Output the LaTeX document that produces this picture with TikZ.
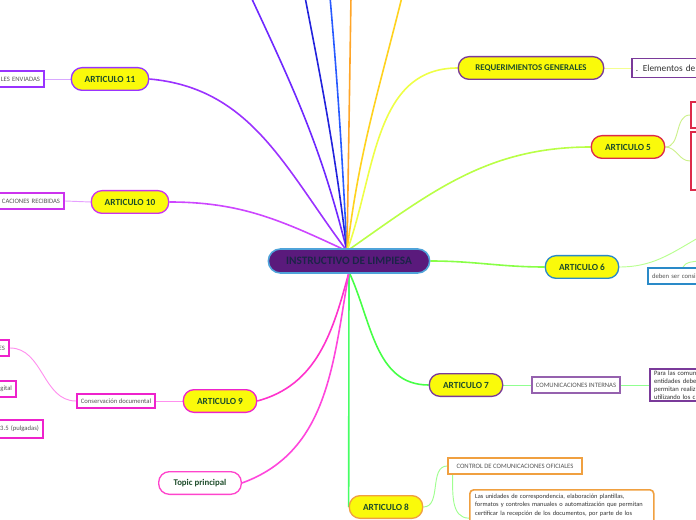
\documentclass[tikz,border=0pt]{standalone}
\usepackage{fontspec}
\setmainfont{Carlito}
\usepackage{tikz}
\usetikzlibrary{positioning, backgrounds}
\definecolor{centrofill}{HTML}{5A1A7C}
\definecolor{centroborde}{HTML}{4FA3D9}
\definecolor{centrotexto}{HTML}{1C2448}
\definecolor{amarillo}{HTML}{FAFA0A}
\definecolor{verdetexto}{HTML}{1E4D2B}
\definecolor{gristexto}{HTML}{555555}
\definecolor{oscurotexto}{HTML}{333333}
\definecolor{morado}{HTML}{9933FF}
\definecolor{lila}{HTML}{CC33EE}
\definecolor{purpura}{HTML}{7A3A9A}
\definecolor{rojo}{HTML}{DD2A4A}
\definecolor{azul}{HTML}{2A8AC8}
\definecolor{naranja}{HTML}{F0A040}
\definecolor{magenta}{HTML}{EE22CC}
\definecolor{rosa}{HTML}{FF44CC}
\tikzset{>=latex}
\tikzset{
  centro/.style={rounded corners=9pt, fill=centrofill, draw=centroborde,
    line width=1.2pt, minimum width=121pt, minimum height=18pt,
    text=centrotexto, font=\fontsize{8.5}{10}\selectfont\bfseries},
  articulo/.style={rounded corners=8pt, fill=amarillo, line width=1pt,
    minimum width=55pt, minimum height=17pt, text=verdetexto,
    font=\fontsize{7}{8}\selectfont\bfseries},
  hoja/.style={fill=white, line width=1.5pt, inner xsep=3pt, inner ysep=1pt,
    minimum height=12pt, text=gristexto, font=\fontsize{5}{6}\selectfont},
  rama/.style={line width=1.2pt},
  subrama/.style={line width=0.7pt},
}
\begin{document}
\begin{tikzpicture}[x=0.75pt, y=-0.75pt]
  \path[use as bounding box, clip] (0,0) rectangle (696,520);
  % centre
  \node[centro] (centro) at (349,261) {INSTRUCTIVO DE LIMPIESA};
  \coordinate (arriba) at (347,251);
  \coordinate (abajo) at (349,272);
  % left side
  \node[articulo, draw=morado, minimum width=58pt] (art11) at (110,79) {ARTICULO 11};
  \node[hoja, draw=morado, anchor=east, text width=60pt, align=right] (env11) at (45,79) {LES ENVIADAS};
  \node[articulo, draw=lila, minimum width=58pt] (art10) at (130,202) {ARTICULO 10};
  \node[hoja, draw=lila, anchor=east, text width=60pt, align=right] (rec10) at (65,201) {CACIONES RECIBIDAS};
  \node[articulo, draw=magenta] (art9) at (220,401) {ARTICULO 9};
  \node[hoja, draw=magenta, minimum height=11pt] (cons9) at (116,401) {Conservación documental};
  \node[hoja, draw=magenta, anchor=east, text width=30pt, align=right] (es9) at (10,348) {ES};
  \node[hoja, draw=magenta, anchor=east, text width=30pt, align=right] (dig9) at (17,389) {igital};
  \node[hoja, draw=magenta, anchor=east, text width=50pt, align=right, minimum height=13pt] (pulg9) at (44,429) {3.5 (pulgadas)};
  \node[articulo, draw=rosa, fill=white, minimum width=62pt,
    font=\fontsize{6.6}{8}\selectfont\bfseries] (topic) at (200,483) {Topic principal};
  % right side
  \node[articulo, draw=purpura, minimum width=109pt,
    font=\fontsize{6.6}{8}\selectfont\bfseries] (req) at (531,68) {REQUERIMIENTOS GENERALES};
  \node[hoja, draw=purpura, line width=1.2pt, anchor=west, text width=80pt, align=left,
    minimum height=14pt, text=oscurotexto, font=\fontsize{7}{8}\selectfont] (elem) at (631,68) {. Elementos de};
  \node[articulo, draw=rojo] (art5) at (628,147) {ARTICULO 5};
  \node[hoja, draw=rojo, anchor=west, minimum width=30pt, minimum height=19pt] (a5a) at (690,115) {};
  \node[hoja, draw=rojo, anchor=west, minimum width=30pt, minimum height=43pt] (a5b) at (690,161) {};
  \node[articulo, draw=azul] (art6) at (582,267) {ARTICULO 6};
  \node[hoja, draw=azul, anchor=west, text width=60pt, align=left] (a6box) at (647,276) {deben ser consi};
  \coordinate (a6fin) at (698,238);
  \coordinate (a6sub) at (698,261);
  \node[articulo, draw=purpura] (art7) at (466,385) {ARTICULO 7};
  \node[hoja, draw=purpura!80] (ci7) at (576,385) {COMUNICACIONES INTERNAS};
  \node[hoja, draw=purpura, anchor=west, text width=60pt, align=left,
    font=\fontsize{5}{6}\selectfont, text=oscurotexto] (para7) at (649,385)
    {Para las comun\\entidades debe\\permitan realiz\\utilizando los c};
  \node[articulo, draw=naranja] (art8) at (386,507) {ARTICULO 8};
  \node[hoja, draw=naranja, minimum width=100pt] (ctrl8) at (515,466) {CONTROL DE COMUNICACIONES OFICIALES};
  \node[hoja, draw=naranja, rounded corners=3pt, line width=1.2pt, anchor=north west,
    text width=130pt, align=left, inner xsep=4pt, inner ysep=3pt, text=oscurotexto,
    font=\fontsize{4.8}{6.4}\selectfont] (unid8) at (469,489)
    {Las unidades de correspondencia, elaboración plantillas,\\formatos y controles manuales o automatización que permitan\\certificar la recepción de los documentos, por parte de los\\[14pt]\mbox{}};
  % branches that leave the top
  \coordinate (top1) at (251,-3);
  \coordinate (top2) at (305,-3);
  \coordinate (top3) at (330,-3);
  \coordinate (top4) at (351,-3);
  \coordinate (top5) at (402,-3);
  \begin{pgfonlayer}{background}
    \draw[rama, color={rgb,255:red,110;green,40;blue,255}] (top1) to[out=-65, in=104] (arriba);
    \draw[rama, color={rgb,255:red,34;green,34;blue,220}] (top2) to[out=-79, in=97] (arriba);
    \draw[rama, color={rgb,255:red,40;green,90;blue,255}] (top3) to[out=-85, in=93] (arriba);
    \draw[rama, color={rgb,255:red,255;green,165;blue,40}] (top4) -- (arriba);
    \draw[rama, color={rgb,255:red,255;green,210;blue,30}] (top5) to[out=-104, in=83] (arriba);
    \draw[rama, color={rgb,255:red,155;green,50;blue,255}] (art11.east) to[out=-5, in=127] (arriba);
    \draw[rama, color={rgb,255:red,205;green,70;blue,255}] (art10.east) to[out=0, in=155] (arriba);
    \draw[rama, color={rgb,255:red,238;green,255;blue,70}] (arriba) to[out=70, in=180] (req.west);
    \draw[rama, color={rgb,255:red,185;green,255;blue,70}] (arriba) to[out=35, in=180] (art5.west);
    \draw[rama, color={rgb,255:red,136;green,255;blue,70}] (centro.east) to[out=0, in=180] (art6.west);
    \draw[rama, color={rgb,255:red,70;green,255;blue,70}] (abajo) to[out=-65, in=180] (art7.west);
    \draw[rama, color={rgb,255:red,70;green,255;blue,100}] (abajo) -- (art8.west);
    \draw[rama, color={rgb,255:red,255;green,50;blue,204}] (abajo) to[out=-105, in=15] (art9.east);
    \draw[rama, color={rgb,255:red,255;green,70;blue,220}] (abajo) to[out=-100, in=20] (topic.east);
    % sub branches
    \draw[subrama, color={rgb,255:red,216;green,168;blue,255}] (art11.west) -- (env11.east);
    \draw[subrama, color={rgb,255:red,230;green,160;blue,255}] (art10.west) -- (rec10.east);
    \draw[subrama, color={rgb,255:red,244;green,255;blue,144}] (req.east) -- (elem.west);
    \draw[subrama, color={rgb,255:red,204;green,240;blue,138}] (art5.east) to[out=0, in=180] (a5a.west);
    \draw[subrama, color={rgb,255:red,204;green,240;blue,138}] (art5.east) to[out=0, in=180] (a5b.west);
    \draw[subrama, color={rgb,255:red,184;green,255;blue,144}] (art6.east) to[out=0, in=-150] (a6fin);
    \draw[subrama, color={rgb,255:red,184;green,255;blue,144}] ([xshift=27pt]a6box.north west) to[out=60, in=190] (a6sub);
    \draw[subrama, color={rgb,255:red,144;green,255;blue,144}] (art7.east) -- (ci7.west);
    \draw[subrama, color={rgb,255:red,144;green,255;blue,144}] (ci7.east) -- (para7.west);
    \draw[subrama, color={rgb,255:red,160;green,255;blue,144}] (art8.east) to[out=0, in=180] (ctrl8.west);
    \draw[subrama, color={rgb,255:red,160;green,255;blue,144}] ([xshift=4pt]ctrl8.south west) to[out=-90, in=180] (unid8.west);
    \draw[subrama, color={rgb,255:red,255;green,144;blue,238}] (art9.west) -- (cons9.east);
    \draw[subrama, color={rgb,255:red,255;green,144;blue,238}] (cons9.west) to[out=180, in=0] (es9.east);
  \end{pgfonlayer}
\end{tikzpicture}
\end{document}
